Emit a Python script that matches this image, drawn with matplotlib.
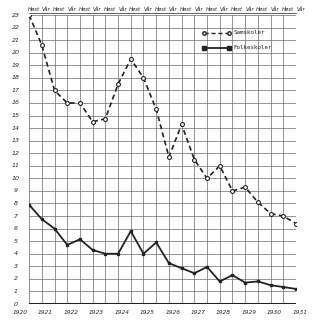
import matplotlib
matplotlib.use('Agg')
import matplotlib.pyplot as plt
import matplotlib.transforms as mtransforms

# half-year points, Høst 1920 .. Vår 1931
samskoler = [23.0, 20.6, 17.0, 16.0, 16.0, 14.5, 14.75, 17.5, 19.5, 18.0, 15.5,
             11.7, 14.3, 11.5, 10.0, 11.0, 9.0, 9.3, 8.1, 7.2, 7.0, 6.4]
folkeskoler = [7.9, 6.75, 6.0, 4.7, 5.15, 4.3, 4.0, 4.0, 5.8, 4.0, 4.9,
               3.25, 2.85, 2.45, 2.95, 1.8, 2.3, 1.7, 1.8, 1.5, 1.35, 1.2]
years = list(range(1920, 1932))
season_labels = ["Høst", "Vår"]

ink = '#222222'
fig = plt.figure(figsize=(3.2, 3.2), dpi=100)
fig.patch.set_facecolor('white')
ax = fig.add_axes([0.091, 0.05, 0.834, 0.903])

n = len(samskoler)
xs = list(range(n))
ax.set_xlim(0, n - 1)
ax.set_ylim(0, 23)

# graph paper grid
for i in xs:
    ax.axvline(i, color='#6a6a6a', lw=0.5, zorder=1)
for v in range(24):
    ax.axhline(v, color='#6a6a6a', lw=0.5, zorder=1)
ax.axhline(0, color=ink, lw=2.2, zorder=2)

ax.plot(xs, samskoler, color=ink, lw=1.2, ls=(0, (3, 2)), marker='o',
        ms=2.8, mfc='white', mec=ink, mew=0.8, zorder=3)
ax.plot(xs, folkeskoler, color=ink, lw=1.3, marker='s',
        ms=2.0, mfc=ink, mec=ink, zorder=3)

for s in ax.spines.values():
    s.set_visible(False)
ax.set_xticks([])
ax.set_yticks([])

# y labels
for v in range(24):
    ax.text(-0.05, v, str(v), transform=mtransforms.blended_transform_factory(
        ax.transAxes, ax.transData), ha='center', va='center',
        fontsize=4.5, style='italic', color=ink)

# top season labels
for i in xs:
    ax.text(i + 0.35, 23.25, season_labels[i % 2], ha='center', va='bottom',
            fontsize=3.8, style='italic', color=ink, clip_on=False)
ax.plot([0, n - 1], [23.15, 23.15], color=ink, lw=0.5, clip_on=False)

# year labels (years fall on the Vår lines)
for k, yr in enumerate(years):
    ax.text(2 * k - 1 + 0.3, -0.7, str(yr), ha='center', va='center',
            fontsize=4.2, style='italic', color=ink, clip_on=False)

# legend drawn on the grid
lx0, lx1 = 13.8, 15.7
ax.plot([lx0, lx1], [21.6, 21.6], color=ink, lw=1.0, ls=(0, (3, 2)),
        marker='o', ms=2.5, mfc='white', mec=ink, zorder=4)
ax.text(16.1, 21.6, "Samskoler", fontsize=4.2, family='monospace',
        va='center', color=ink)
ax.plot([lx0, lx1], [20.4, 20.4], color=ink, lw=1.3, marker='s', ms=2.2,
        mfc=ink, mec=ink, zorder=4)
ax.text(16.1, 20.4, "Folkeskoler", fontsize=4.2, family='monospace',
        va='center', color=ink)

fig.savefig('out.png', dpi=100)
